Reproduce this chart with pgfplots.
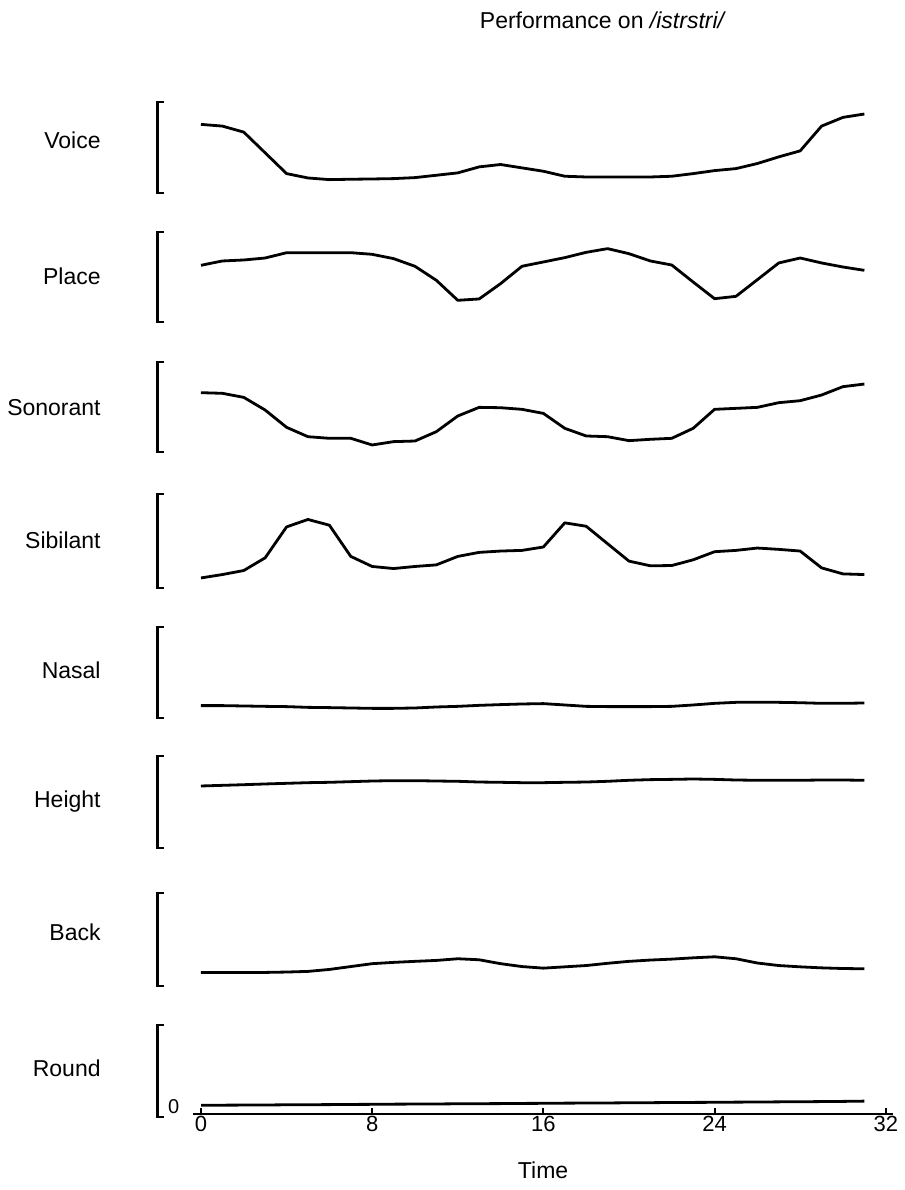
\documentclass[border=0pt]{standalone}
\usepackage{fontspec}
\setmainfont{Liberation Sans}
\usepackage{pgfplots}
\usepackage{pgfplotstable}
\pgfplotsset{compat=1.18}

\pgfplotstableread{
x  voice place son   sib   nasal height back  round
0  0.754 0.630 0.659 0.107 0.136 0.674 0.146 0.127
1  0.735 0.678 0.652 0.143 0.136 0.681 0.146 0.129
2  0.669 0.689 0.607 0.186 0.132 0.688 0.146 0.130
3  0.441 0.711 0.466 0.321 0.128 0.696 0.146 0.131
4  0.213 0.770 0.274 0.650 0.125 0.703 0.150 0.133
5  0.165 0.770 0.170 0.729 0.117 0.710 0.157 0.134
6  0.147 0.770 0.152 0.668 0.114 0.714 0.178 0.135
7  0.151 0.770 0.152 0.336 0.110 0.721 0.209 0.137
8  0.154 0.752 0.078 0.229 0.106 0.728 0.240 0.138
9  0.158 0.704 0.115 0.207 0.106 0.732 0.254 0.140
10 0.169 0.619 0.122 0.229 0.110 0.732 0.265 0.141
11 0.195 0.463 0.226 0.246 0.121 0.728 0.275 0.142
12 0.221 0.241 0.400 0.336 0.128 0.725 0.293 0.144
13 0.287 0.256 0.496 0.379 0.139 0.717 0.282 0.145
14 0.313 0.426 0.492 0.393 0.147 0.714 0.240 0.146
15 0.276 0.619 0.474 0.400 0.154 0.710 0.209 0.148
16 0.239 0.667 0.429 0.436 0.158 0.710 0.192 0.149
17 0.184 0.715 0.263 0.693 0.143 0.714 0.206 0.151
18 0.176 0.774 0.178 0.657 0.128 0.717 0.220 0.152
19 0.176 0.815 0.170 0.471 0.125 0.725 0.244 0.153
20 0.176 0.759 0.126 0.286 0.125 0.736 0.265 0.155
21 0.176 0.678 0.141 0.236 0.125 0.743 0.279 0.156
22 0.184 0.633 0.152 0.239 0.128 0.746 0.289 0.158
23 0.213 0.444 0.263 0.300 0.143 0.750 0.303 0.159
24 0.246 0.259 0.474 0.386 0.161 0.746 0.314 0.160
25 0.268 0.285 0.485 0.400 0.172 0.739 0.293 0.162
26 0.324 0.470 0.496 0.425 0.172 0.736 0.247 0.163
27 0.397 0.656 0.548 0.411 0.172 0.736 0.220 0.165
28 0.463 0.711 0.570 0.393 0.168 0.736 0.206 0.166
29 0.735 0.656 0.633 0.214 0.161 0.739 0.195 0.168
30 0.831 0.611 0.726 0.150 0.161 0.739 0.188 0.170
31 0.868 0.574 0.755 0.143 0.165 0.736 0.185 0.173
}\data

\pgfplotsset{
  panel/.style={x=10.7pt, xmin=-2.05, xmax=32.3, ymin=0, ymax=1,
    hide axis, clip=false, anchor=south west},
  curve/.style={black, line width=1.4pt, line join=round, no markers},
}
\tikzset{brk/.style={black, line width=1.4pt, line join=miter}}

\begin{document}
\begin{tikzpicture}[font=\fontsize{11.5pt}{13pt}\selectfont]
\useasboundingbox (0,0) rectangle (452.5pt,595pt);

% Voice
\begin{axis}[panel, y=45.5pt, at={(78.55pt,498.5pt)}]
\addplot[curve] table[x=x,y=voice]{\data};
\draw[brk] (axis cs:-1.75,0) -- (axis cs:-2.05,0) -- (axis cs:-2.05,1) -- (axis cs:-1.75,1);
\end{axis}
% Place
\begin{axis}[panel, y=45pt, at={(78.55pt,434pt)}]
\addplot[curve] table[x=x,y=place]{\data};
\draw[brk] (axis cs:-1.75,0) -- (axis cs:-2.05,0) -- (axis cs:-2.05,1) -- (axis cs:-1.75,1);
\end{axis}
% Sonorant
\begin{axis}[panel, y=45pt, at={(78.55pt,369pt)}]
\addplot[curve] table[x=x,y=son]{\data};
\draw[brk] (axis cs:-1.75,0) -- (axis cs:-2.05,0) -- (axis cs:-2.05,1) -- (axis cs:-1.75,1);
\end{axis}
% Sibilant
\begin{axis}[panel, y=47pt, at={(78.55pt,301pt)}]
\addplot[curve] table[x=x,y=sib]{\data};
\draw[brk] (axis cs:-1.75,0) -- (axis cs:-2.05,0) -- (axis cs:-2.05,1) -- (axis cs:-1.75,1);
\end{axis}
% Nasal
\begin{axis}[panel, y=45.5pt, at={(78.55pt,236pt)}]
\addplot[curve] table[x=x,y=nasal]{\data};
\draw[brk] (axis cs:-1.75,0) -- (axis cs:-2.05,0) -- (axis cs:-2.05,1) -- (axis cs:-1.75,1);
\end{axis}
% Height
\begin{axis}[panel, y=46pt, at={(78.55pt,171pt)}]
\addplot[curve] table[x=x,y=height]{\data};
\draw[brk] (axis cs:-1.75,0) -- (axis cs:-2.05,0) -- (axis cs:-2.05,1) -- (axis cs:-1.75,1);
\end{axis}
% Back
\begin{axis}[panel, y=46.5pt, at={(78.55pt,102pt)}]
\addplot[curve] table[x=x,y=back]{\data};
\draw[brk] (axis cs:-1.75,0) -- (axis cs:-2.05,0) -- (axis cs:-2.05,1) -- (axis cs:-1.75,1);
\end{axis}
% Round with time axis
\begin{axis}[x=10.7pt, y=46pt, xmin=-0.37, xmax=32.34, ymin=0.033, ymax=1,
  clip=false, anchor=south west, at={(96.55pt,38pt)},
  axis x line=bottom, axis y line=none,
  x axis line style={-, line width=1.2pt},
  xtick={0,8,16,24,32}, tick align=inside, major tick length=3pt,
  tick style={black, line width=1pt},
  xticklabel style={font=\fontsize{11pt}{12pt}\selectfont, inner sep=1pt},
  /pgf/number format/assume math mode=true,
  xlabel={Time},
  x label style={at={(axis description cs:0.5,0)}, anchor=center, yshift=-28pt}]
\addplot[curve] table[x=x,y=round]{\data};
\draw[brk] (axis cs:-1.75,0) -- (axis cs:-2.05,0) -- (axis cs:-2.05,1) -- (axis cs:-1.75,1);
\node[inner sep=0pt, font=\fontsize{10pt}{11pt}\selectfont] at (axis cs:-1.28,0.11) {0};
\end{axis}

% labels
\node[anchor=east, inner sep=0pt] at (50.5pt,525pt) {Voice};
\node[anchor=east, inner sep=0pt] at (50.5pt,457pt) {Place};
\node[anchor=east, inner sep=0pt] at (50.5pt,391pt) {Sonorant};
\node[anchor=east, inner sep=0pt] at (50.5pt,325pt) {Sibilant};
\node[anchor=east, inner sep=0pt] at (50.5pt,260pt) {Nasal};
\node[anchor=east, inner sep=0pt] at (50.5pt,194pt) {Height};
\node[anchor=east, inner sep=0pt] at (50.5pt,129pt) {Back};
\node[anchor=east, inner sep=0pt] at (50.5pt,61pt) {Round};
% title
\node[inner sep=0pt] at (301.5pt,585pt) {Performance on \textit{/istrstri/}};
\end{tikzpicture}
\end{document}
